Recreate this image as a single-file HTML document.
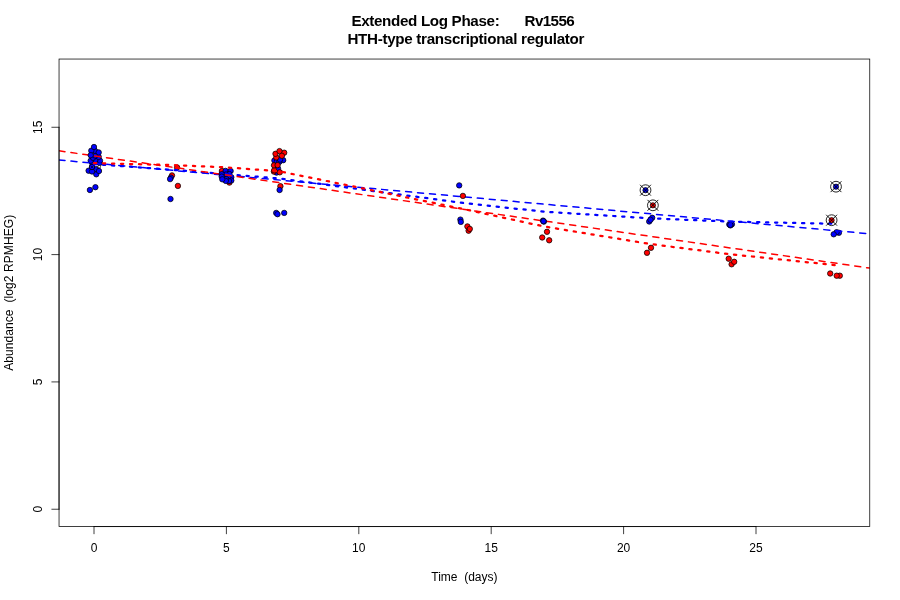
<!DOCTYPE html>
<html lang="en"><head><meta charset="utf-8"><title>Extended Log Phase: Rv1556</title>
<style>html,body{margin:0;padding:0;background:#fff;overflow:hidden}svg{display:block}text{font-family:"Liberation Sans",sans-serif;fill:#000;white-space:pre}</style>
</head><body>
<svg width="900" height="600" viewBox="0 0 900 600">
<rect width="900" height="600" fill="#fff"/>
<defs><clipPath id="plot"><rect x="59.04" y="59.04" width="810.72" height="467.52"/></clipPath></defs>
<g clip-path="url(#plot)">
<g stroke="#000" stroke-width="0.75">
<circle cx="89.9" cy="190.0" r="2.7" fill="#0000ff"/>
<circle cx="95.4" cy="187.2" r="2.7" fill="#0000ff"/>
<circle cx="96.0" cy="169.2" r="2.7" fill="#0000ff"/>
<circle cx="96.3" cy="174.3" r="2.7" fill="#0000ff"/>
<circle cx="88.6" cy="170.7" r="2.7" fill="#0000ff"/>
<circle cx="92.0" cy="171.5" r="2.7" fill="#0000ff"/>
<circle cx="99.0" cy="171.0" r="2.7" fill="#0000ff"/>
<circle cx="92.0" cy="167.0" r="2.7" fill="#0000ff"/>
<circle cx="99.6" cy="163.0" r="2.7" fill="#0000ff"/>
<circle cx="92.0" cy="162.7" r="2.7" fill="#0000ff"/>
<circle cx="100.0" cy="160.7" r="2.7" fill="#0000ff"/>
<circle cx="95.3" cy="160.0" r="2.7" fill="#0000ff"/>
<circle cx="90.7" cy="160.7" r="2.7" fill="#0000ff"/>
<circle cx="93.0" cy="157.8" r="2.7" fill="#0000ff"/>
<circle cx="98.7" cy="156.9" r="2.7" fill="#0000ff"/>
<circle cx="95.2" cy="155.6" r="2.7" fill="#0000ff"/>
<circle cx="95.0" cy="150.8" r="2.7" fill="#0000ff"/>
<circle cx="98.7" cy="152.4" r="2.7" fill="#0000ff"/>
<circle cx="91.3" cy="150.7" r="2.7" fill="#0000ff"/>
<circle cx="94.0" cy="147.0" r="2.7" fill="#0000ff"/>
<circle cx="177.1" cy="167.5" r="2.7" fill="#ff0000"/>
<circle cx="172.0" cy="175.4" r="2.7" fill="#ff0000"/>
<circle cx="170.9" cy="177.6" r="2.7" fill="#0000ff"/>
<circle cx="170.1" cy="179.1" r="2.7" fill="#0000ff"/>
<circle cx="177.9" cy="185.9" r="2.7" fill="#ff0000"/>
<circle cx="170.5" cy="199.0" r="2.7" fill="#0000ff"/>
<circle cx="221.9" cy="171.0" r="2.7" fill="#ff0000"/>
<circle cx="229.4" cy="182.6" r="2.7" fill="#ff0000"/>
<circle cx="225.6" cy="170.9" r="2.7" fill="#0000ff"/>
<circle cx="230.6" cy="171.0" r="2.7" fill="#0000ff"/>
<circle cx="229.2" cy="174.0" r="2.7" fill="#0000ff"/>
<circle cx="226.0" cy="174.5" r="2.7" fill="#0000ff"/>
<circle cx="231.3" cy="177.2" r="2.7" fill="#0000ff"/>
<circle cx="228.5" cy="178.0" r="2.7" fill="#0000ff"/>
<circle cx="231.3" cy="180.5" r="2.7" fill="#0000ff"/>
<circle cx="229.0" cy="181.0" r="2.7" fill="#0000ff"/>
<circle cx="226.2" cy="179.0" r="2.7" fill="#0000ff"/>
<circle cx="225.8" cy="180.9" r="2.7" fill="#0000ff"/>
<circle cx="280.4" cy="186.2" r="2.7" fill="#ff0000"/>
<circle cx="279.6" cy="190.0" r="2.7" fill="#0000ff"/>
<circle cx="276.2" cy="212.9" r="2.7" fill="#0000ff"/>
<circle cx="277.5" cy="214.2" r="2.7" fill="#0000ff"/>
<circle cx="284.2" cy="212.9" r="2.7" fill="#0000ff"/>
<circle cx="276.5" cy="172.6" r="2.7" fill="#0000ff"/>
<circle cx="278.0" cy="168.5" r="2.7" fill="#0000ff"/>
<circle cx="273.9" cy="171.6" r="2.7" fill="#ff0000"/>
<circle cx="279.8" cy="172.3" r="2.7" fill="#ff0000"/>
<circle cx="274.2" cy="170.3" r="2.7" fill="#ff0000"/>
<circle cx="274.4" cy="160.5" r="2.7" fill="#0000ff"/>
<circle cx="283.2" cy="160.2" r="2.7" fill="#0000ff"/>
<circle cx="276.9" cy="161.5" r="2.7" fill="#0000ff"/>
<circle cx="279.3" cy="161.9" r="2.7" fill="#0000ff"/>
<circle cx="280.0" cy="159.6" r="2.7" fill="#0000ff"/>
<circle cx="274.0" cy="165.3" r="2.7" fill="#ff0000"/>
<circle cx="277.6" cy="165.1" r="2.7" fill="#ff0000"/>
<circle cx="276.3" cy="157.4" r="2.7" fill="#ff0000"/>
<circle cx="275.5" cy="153.8" r="2.7" fill="#ff0000"/>
<circle cx="284.2" cy="152.7" r="2.7" fill="#ff0000"/>
<circle cx="279.5" cy="151.1" r="2.7" fill="#ff0000"/>
<circle cx="281.9" cy="155.8" r="2.7" fill="#ff0000"/>
<circle cx="729.3" cy="224.4" r="2.7" fill="#0000ff"/>
<circle cx="731.9" cy="224.3" r="2.7" fill="#0000ff"/>
<circle cx="730.4" cy="225.4" r="2.7" fill="#0000ff"/>
<circle cx="730.3" cy="224.9" r="2.7" fill="#0000ff"/>
<circle cx="838.9" cy="232.8" r="2.7" fill="#0000ff"/>
<circle cx="836.6" cy="232.2" r="2.7" fill="#0000ff"/>
<circle cx="833.7" cy="234.3" r="2.7" fill="#0000ff"/>
<path d="M96.9,166.7 L100.7,164.9 L100.3,168.1 Z" fill="#fff" stroke="#000" stroke-width="0.6"/>
<circle cx="92.0" cy="167.0" r="2.7" fill="#0000ff"/>
<circle cx="92" cy="167" r="0.55" fill="#000"/>
</g>
<g fill="none" stroke-linecap="round" stroke-linejoin="round">
<polyline points="94.0,164.1 173.4,169.9 226.4,174.2 279.4,178.5 464.7,203.2 544.2,211.7 650.1,218.3 729.5,221.6 835.4,223.8" stroke="#0000ff" stroke-width="2.25" stroke-dasharray="2.25 6.75"/>
<line x1="59.04" y1="160.0" x2="869.76" y2="233.8" stroke="#0000ff" stroke-width="1.5" stroke-dasharray="6 6"/>
<polyline points="94.0,163.1 173.4,165.1 226.4,167.4 279.4,171.3 464.7,209.3 544.2,226.5 650.1,244.0 729.5,254.2 835.4,265.1" stroke="#ff0000" stroke-width="2.25" stroke-dasharray="2.25 6.75"/>
<line x1="59.04" y1="150.8" x2="869.76" y2="268.1" stroke="#ff0000" stroke-width="1.5" stroke-dasharray="6 6"/>
</g>
<g stroke="#000" stroke-width="0.75">
<circle cx="90.7" cy="155.2" r="2.7" fill="#0000ff"/>
<circle cx="221.7" cy="174.2" r="2.7" fill="#0000ff"/>
<circle cx="221.7" cy="176.6" r="2.7" fill="#0000ff"/>
<circle cx="222.3" cy="179.3" r="2.7" fill="#0000ff"/>
<circle cx="459.2" cy="185.4" r="2.7" fill="#0000ff"/>
<circle cx="462.9" cy="195.9" r="2.7" fill="#ff0000"/>
<circle cx="460.4" cy="219.6" r="2.7" fill="#0000ff"/>
<circle cx="460.8" cy="221.9" r="2.7" fill="#0000ff"/>
<circle cx="468.6" cy="230.7" r="2.7" fill="#ff0000"/>
<circle cx="467.4" cy="226.4" r="2.7" fill="#ff0000"/>
<circle cx="469.8" cy="228.9" r="2.7" fill="#ff0000"/>
<circle cx="543.0" cy="220.6" r="2.7" fill="#0000ff"/>
<circle cx="543.9" cy="221.6" r="2.7" fill="#0000ff"/>
<circle cx="543.5" cy="221.2" r="2.7" fill="#0000ff"/>
<circle cx="547.0" cy="231.8" r="2.7" fill="#ff0000"/>
<circle cx="542.2" cy="237.5" r="2.7" fill="#ff0000"/>
<circle cx="549.2" cy="240.3" r="2.7" fill="#ff0000"/>
<circle cx="649.2" cy="221.5" r="2.7" fill="#0000ff"/>
<circle cx="652.2" cy="217.8" r="2.7" fill="#0000ff"/>
<circle cx="650.5" cy="219.8" r="2.7" fill="#0000ff"/>
<circle cx="647.0" cy="252.8" r="2.7" fill="#ff0000"/>
<circle cx="651.0" cy="247.8" r="2.7" fill="#ff0000"/>
<circle cx="731.6" cy="264.3" r="2.7" fill="#ff0000"/>
<circle cx="728.7" cy="258.7" r="2.7" fill="#ff0000"/>
<circle cx="734.2" cy="261.8" r="2.7" fill="#ff0000"/>
<circle cx="830.2" cy="273.5" r="2.7" fill="#ff0000"/>
<circle cx="839.8" cy="275.7" r="2.7" fill="#ff0000"/>
<circle cx="836.7" cy="275.7" r="2.7" fill="#ff0000"/>
<circle cx="645.5" cy="190.2" r="2.6" fill="#0000ff"/>
<circle cx="645.5" cy="190.2" r="5.4" fill="none" stroke-width="0.85"/>
<path d="M640.35,185.05L650.65,195.35M640.35,195.35L650.65,185.05" fill="none" stroke-width="0.9" stroke-linecap="round"/>
<circle cx="652.9" cy="205.3" r="2.6" fill="#ff0000"/>
<circle cx="652.9" cy="205.3" r="5.4" fill="none" stroke-width="0.85"/>
<path d="M647.75,200.15L658.05,210.45M647.75,210.45L658.05,200.15" fill="none" stroke-width="0.9" stroke-linecap="round"/>
<circle cx="836.0" cy="186.7" r="2.6" fill="#0000ff"/>
<circle cx="836.0" cy="186.7" r="5.4" fill="none" stroke-width="0.85"/>
<path d="M830.85,181.55L841.15,191.85M830.85,191.85L841.15,181.55" fill="none" stroke-width="0.9" stroke-linecap="round"/>
<circle cx="831.6" cy="220.2" r="2.6" fill="#ff0000"/>
<circle cx="831.6" cy="220.2" r="5.4" fill="none" stroke-width="0.85"/>
<path d="M826.45,215.05L836.75,225.35M826.45,225.35L836.75,215.05" fill="none" stroke-width="0.9" stroke-linecap="round"/>
</g>
</g>
<g fill="none" stroke="#000" stroke-width="0.75" stroke-linecap="round">
<path d="M94.00,526.56L756.00,526.56"/>
<path d="M94.00,526.56L94.00,533.76"/>
<path d="M226.40,526.56L226.40,533.76"/>
<path d="M358.80,526.56L358.80,533.76"/>
<path d="M491.20,526.56L491.20,533.76"/>
<path d="M623.60,526.56L623.60,533.76"/>
<path d="M756.00,526.56L756.00,533.76"/>
<path d="M59.04,509.24L59.04,127.28"/>
<path d="M59.04,509.24L51.84,509.24"/>
<path d="M59.04,381.92L51.84,381.92"/>
<path d="M59.04,254.60L51.84,254.60"/>
<path d="M59.04,127.28L51.84,127.28"/>
<rect x="59.04" y="59.04" width="810.72" height="467.52"/>
</g>
<g font-size="12px">
<text x="94.00" y="552.48" text-anchor="middle">0</text>
<text x="226.40" y="552.48" text-anchor="middle">5</text>
<text x="358.80" y="552.48" text-anchor="middle">10</text>
<text x="491.20" y="552.48" text-anchor="middle">15</text>
<text x="623.60" y="552.48" text-anchor="middle">20</text>
<text x="756.00" y="552.48" text-anchor="middle">25</text>
<text transform="translate(41.76,509.24) rotate(-90)" text-anchor="middle">0</text>
<text transform="translate(41.76,381.92) rotate(-90)" text-anchor="middle">5</text>
<text transform="translate(41.76,254.60) rotate(-90)" text-anchor="middle">10</text>
<text transform="translate(41.76,127.28) rotate(-90)" text-anchor="middle">15</text>
<text x="464.40" y="581.28" text-anchor="middle" xml:space="preserve">Time  (days)</text>
<text transform="translate(12.96,292.80) rotate(-90)" text-anchor="middle" letter-spacing="0.085" xml:space="preserve">Abundance  (log2 RPMHEG)</text>
</g>
<g font-size="15.2px" font-weight="bold">
<text x="351.4" y="26" letter-spacing="-0.34" xml:space="preserve">Extended Log Phase:</text>
<text x="524.6" y="26" letter-spacing="-0.62" xml:space="preserve">Rv1556</text>
<text x="347.4" y="44" letter-spacing="-0.31" xml:space="preserve">HTH-type transcriptional regulator</text>
</g>
</svg></body></html>
